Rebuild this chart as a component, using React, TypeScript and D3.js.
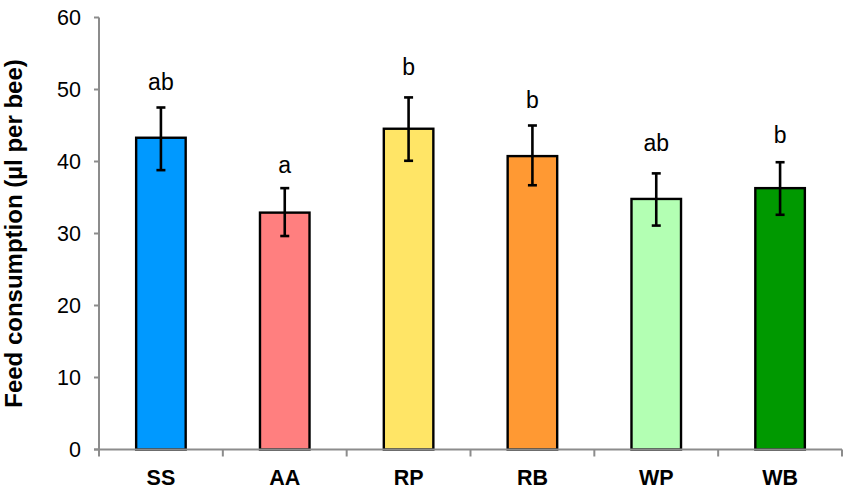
import React from "react";
import * as d3 from "d3";

const categories = ["SS", "AA", "RP", "RB", "WP", "WB"];
const means = [43.3, 32.9, 44.55, 40.75, 34.8, 36.3];
const errUpper = [47.5, 36.3, 48.9, 45.0, 38.35, 39.9];
const errLower = [38.8, 29.65, 40.1, 36.7, 31.1, 32.6];
const letters = ["ab", "a", "b", "b", "ab", "b"];
const letterLevel = [49.9, 38.4, 52.0, 47.4, 41.5, 42.6];
const colors = ["#0099FF", "#FF7F7F", "#FFE566", "#FF9933", "#B3FFB3", "#009900"];
const yTicks = [0, 10, 20, 30, 40, 50, 60];
const yLabel = "Feed consumption (µl per bee)";

const W = 851;
const H = 494;
const FONT = "'Liberation Sans', Arial, sans-serif";

export default function App() {
  const x = d3
    .scaleBand<string>()
    .domain(categories)
    .range([99, 842])
    .paddingInner(0.6)
    .paddingOuter(0.3);
  const y = d3.scaleLinear().domain([0, 60]).range([449.5, 17.5]);
  const step = x.step();
  const x0 = 99;
  const boundaries = d3.range(categories.length + 1).map((i) => x0 + i * step);
  const axisColor = "#8c8c8c";

  return (
    <svg
      width={W}
      height={H}
      style={{ position: "absolute", left: 0, top: 0, background: "#fff" }}
      fontFamily={FONT}
    >
      {/* bars */}
      {categories.map((c, i) => (
        <rect
          key={c}
          x={x(c)!}
          y={y(means[i])}
          width={x.bandwidth()}
          height={y(0) - y(means[i])}
          fill={colors[i]}
          stroke="#000"
          strokeWidth={2.4}
        />
      ))}
      {/* error bars */}
      {categories.map((c, i) => {
        const cx = x(c)! + x.bandwidth() / 2;
        return (
          <g key={"e" + c} stroke="#000" strokeWidth={2.6}>
            <line x1={cx} x2={cx} y1={y(errUpper[i])} y2={y(errLower[i])} />
            <line x1={cx - 4.5} x2={cx + 4.5} y1={y(errUpper[i])} y2={y(errUpper[i])} />
            <line x1={cx - 4.5} x2={cx + 4.5} y1={y(errLower[i])} y2={y(errLower[i])} />
          </g>
        );
      })}
      {/* letters */}
      {categories.map((c, i) => (
        <text
          key={"l" + c}
          x={x(c)! + x.bandwidth() / 2}
          y={y(letterLevel[i])}
          textAnchor="middle"
          fontSize={23}
          fill="#000"
        >
          {letters[i]}
        </text>
      ))}
      {/* y axis */}
      <line x1={x0} x2={x0} y1={y(60)} y2={y(0)} stroke={axisColor} strokeWidth={2} />
      {yTicks.map((t) => (
        <g key={"t" + t}>
          <line x1={x0 - 5} x2={x0} y1={y(t)} y2={y(t)} stroke={axisColor} strokeWidth={2} />
          <text x={81} y={y(t) + 7.6} textAnchor="end" fontSize={21.5} fill="#000">
            {t}
          </text>
        </g>
      ))}
      {/* x axis */}
      <line x1={x0 - 5} x2={boundaries[boundaries.length - 1]} y1={y(0)} y2={y(0)} stroke={axisColor} strokeWidth={2} />
      {boundaries.map((b, i) => (
        <line key={"b" + i} x1={b} x2={b} y1={y(0)} y2={y(0) + 7} stroke={axisColor} strokeWidth={2} />
      ))}
      {categories.map((c) => (
        <text
          key={"c" + c}
          x={x(c)! + x.bandwidth() / 2}
          y={485}
          textAnchor="middle"
          fontSize={21.5}
          fontWeight="bold"
          fill="#000"
        >
          {c}
        </text>
      ))}
      {/* y label */}
      <text
        transform={`translate(22, ${(y(0) + y(60)) / 2}) rotate(-90)`}
        textAnchor="middle"
        fontSize={24}
        fontWeight="bold"
        fill="#000"
      >
        {yLabel}
      </text>
    </svg>
  );
}
